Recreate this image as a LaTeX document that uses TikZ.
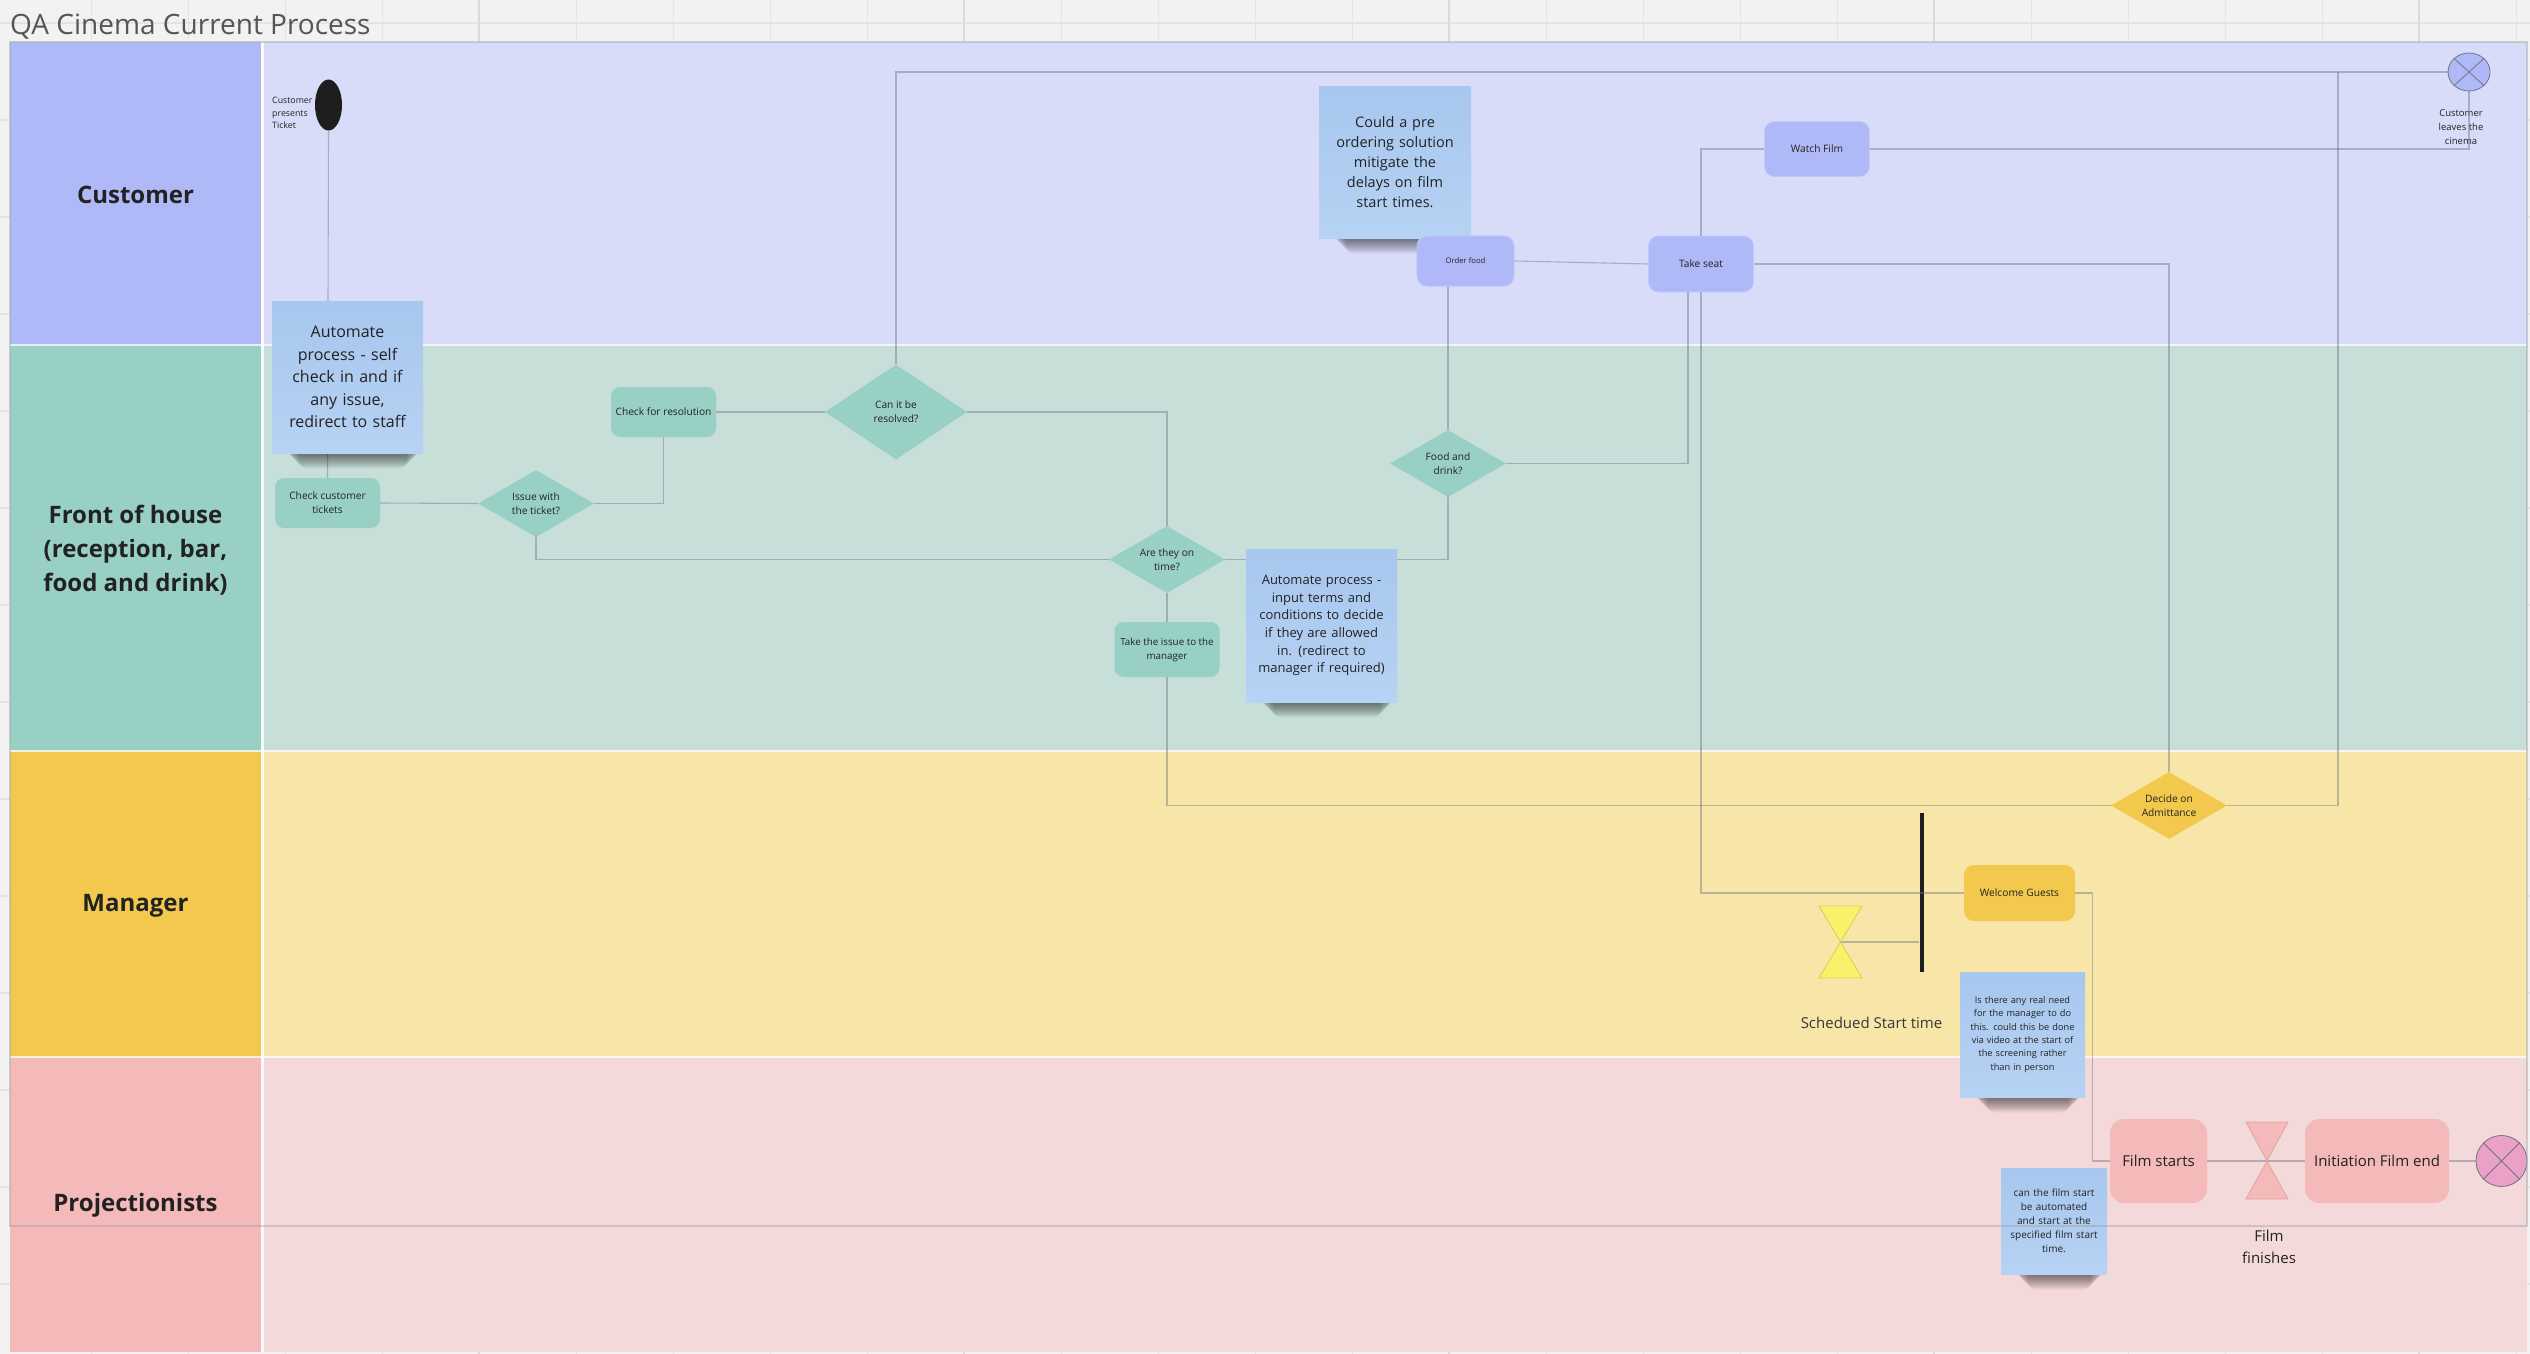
\documentclass[tikz,border=0pt]{standalone}
\usepackage{fontspec}
\setmainfont{Open Sans}
\usetikzlibrary{shapes.geometric,calc}

\definecolor{pagebg}{HTML}{F2F2F2}
\definecolor{gridln}{HTML}{E4E4E4}
\definecolor{gridthick}{HTML}{DADADA}
\definecolor{custlab}{HTML}{B0B9F7}
\definecolor{custbg}{HTML}{D9DCF8}
\definecolor{custedge}{HTML}{C2C8F9}
\definecolor{fohlab}{HTML}{99D0C6}
\definecolor{fohbg}{HTML}{C8DED8}
\definecolor{mgrlab}{HTML}{F2C94C}
\definecolor{mgrbg}{HTML}{F8E6A8}
\definecolor{projlab}{HTML}{F4B9B9}
\definecolor{projbg}{HTML}{F4D9DB}
\definecolor{ink}{HTML}{222222}
\definecolor{titleink}{HTML}{555555}
\definecolor{wirecol}{HTML}{6E7580}
\definecolor{framecol}{HTML}{A0A0A8}
\definecolor{notetop}{HTML}{A8C7EE}
\definecolor{notebot}{HTML}{B6D2F4}
\definecolor{endpink}{HTML}{EBA0C8}
\definecolor{hgyellow}{HTML}{FAF06A}
\definecolor{hgyedge}{HTML}{D6CC5C}
\definecolor{hgpedge}{HTML}{DFA3A3}
\definecolor{barblack}{HTML}{1E1E1E}

% soft shadow under a sticky note: left x, right x, bottom y
\newcommand\noteshadow[3]{%
  \foreach \k in {0,...,15}{%
    \fill[black, opacity=0.035, rounded corners=7pt]
      ({#1+14+0.9*\k},{#3-12}) rectangle ({#2-3-0.9*\k},{#3+2+0.9*\k});
  }%
}

\tikzset{
  base/.style={text=ink, align=center, inner sep=0pt,
    font=\fontsize{10.2}{14}\selectfont},
  lanelabel/.style={text=ink, align=center,
    font=\bfseries\fontsize{24}{34}\selectfont},
  custbox/.style={base, rectangle, rounded corners=10pt, fill=custlab,
    draw=custedge, line width=0.8pt},
  fohbox/.style={base, rectangle, rounded corners=9pt, fill=fohlab,
    minimum width=105pt, minimum height=50pt},
  fohdia/.style={base, diamond, aspect=1.7, fill=fohlab,
    minimum width=116pt, minimum height=67pt},
  mgrbox/.style={base, rectangle, rounded corners=10pt, fill=mgrlab},
  mgrdia/.style={base, diamond, aspect=1.7, fill=mgrlab,
    minimum width=116pt, minimum height=67pt},
  projbox/.style={base, rectangle, rounded corners=14pt, fill=projlab,
    minimum height=84pt, font=\fontsize{15}{20}\selectfont},
  note/.style={base, rectangle, top color=notetop, bottom color=notebot,
    draw=none},
  caption/.style={text=ink, align=center, inner sep=0pt},
  wire/.style={draw=wirecol, opacity=0.45, line width=1.1pt},
}

\begin{document}
\begin{tikzpicture}[x=1pt, y=-1pt]
\useasboundingbox (0,0) rectangle (2530,1354);

% board background with grid
\fill[pagebg] (0,0) rectangle (2530,1354);
\foreach \k in {0,...,25}
  \draw[gridln, line width=1.2pt] ({91.5+97*\k},0) -- ({91.5+97*\k},1354);
\foreach \k in {0,...,14}
  \draw[gridln, line width=1.2pt] (0,{23+97*\k}) -- (2530,{23+97*\k});
\foreach \k in {0,...,4}
  \draw[gridthick, line width=2pt] ({478.5+485*\k},0) -- ({478.5+485*\k},1354);

% title
\node[anchor=base west, text=titleink, inner sep=0pt,
      font=\fontsize{28}{34}\selectfont] (title) at (10,35) {QA Cinema Current Process};

% swimlanes
\fill[custlab] (10,42) rectangle (261,345);
\fill[custbg] (263,42) rectangle (2527,345);
\fill[fohlab] (10,345) rectangle (261,751);
\fill[fohbg] (263,345) rectangle (2527,751);
\fill[mgrlab] (10,751) rectangle (261,1057);
\fill[mgrbg] (263,751) rectangle (2527,1057);
\fill[projlab] (10,1057) rectangle (261,1352);
\fill[projbg] (263,1057) rectangle (2527,1352);
\foreach \yy in {345,751,1057}
  \draw[white, opacity=0.75, line width=2.5pt] (10,\yy) -- (2527,\yy);
\draw[white, opacity=0.8, line width=3pt] (262,42) -- (262,1352);

\node[lanelabel] (lcust) at (135.5,195) {Customer};
\node[lanelabel] (lfoh) at (135.5,550) {Front of house\\(reception, bar,\\food and drink)};
\node[lanelabel] (lmgr) at (135.5,906) {Manager};
\node[lanelabel] (lproj) at (135.5,1205) {Projectionists};

% ---------- nodes ----------
% customer lane
\node[ellipse, fill=barblack, minimum width=27pt, minimum height=51pt, inner sep=0pt]
  (start) at (328.5,105) {};
\node[caption, anchor=west, align=left, font=\fontsize{8.8}{12.5}\selectfont]
  (startlbl) at (272,113) {Customer\\presents\\Ticket};
\node[custbox, minimum width=97pt, minimum height=50pt,
      font=\fontsize{7.7}{10}\selectfont] (of) at (1465.5,261) {Order food};
\node[custbox, minimum width=105pt, minimum height=56pt] (ts) at (1701,264) {Take seat};
\node[custbox, minimum width=105pt, minimum height=55pt] (wf) at (1817,149) {Watch Film};
\node[ellipse, fill=custlab, draw=wirecol, line width=0.8pt,
      minimum width=42pt, minimum height=38pt, inner sep=0pt] (leave) at (2469,72) {};
\draw[wirecol, line width=0.8pt] (leave.north west) -- (leave.south east)
  (leave.north east) -- (leave.south west);
\node[caption, font=\fontsize{9.5}{14}\selectfont] (leavelbl) at (2461,127)
  {Customer\\leaves the\\cinema};

% front of house lane
\node[fohbox] (cct) at (327.5,503) {Check customer\\tickets};
\node[fohdia] (iw) at (536,503.5) {Issue with\\the ticket?};
\node[fohbox] (cfr) at (663.5,412) {Check for resolution};
\node[fohdia, minimum width=142pt, minimum height=95pt, aspect=1.5] (cr) at (896,412)
  {Can it be\\resolved?};
\node[fohdia] (ot) at (1167,559.5) {Are they on\\time?};
\node[fohbox, minimum height=55pt, font=\fontsize{9.8}{14}\selectfont] (tim) at (1167,649.5)
  {Take the issue to the\\manager};
\node[fohdia] (fd) at (1448,463.5) {Food and\\drink?};

% manager lane
\node[mgrdia] (dec) at (2169,805.5) {Decide on\\Admittance};
\node[mgrbox, minimum width=111pt, minimum height=56pt] (wg) at (2019.5,893) {Welcome Guests};
\node[rectangle, fill=barblack, minimum width=4pt, minimum height=159pt, inner sep=0pt]
  (bar) at (1921.5,892.5) {};
\coordinate (hg) at (1840.5,942);
\node[caption, text=ink!90, font=\fontsize{15}{20}\selectfont] (sst) at (1871.5,1023)
  {Schedued Start time};

% projectionists lane
\node[projbox, minimum width=97pt] (fs) at (2158.5,1161) {Film starts};
\coordinate (hgp) at (2267,1161);
\node[projbox, minimum width=144pt] (ife) at (2377,1161) {Initiation Film end};
\node[circle, fill=endpink, draw=wirecol, line width=0.8pt, minimum size=51pt, inner sep=0pt]
  (endc) at (2501.5,1161) {};
\draw[wirecol, line width=0.8pt] (endc.north west) -- (endc.south east)
  (endc.north east) -- (endc.south west);
\node[caption, font=\fontsize{15}{22}\selectfont] (ff) at (2269,1247) {Film\\finishes};

% ---------- connectors ----------
\coordinate (topjoin) at (2338,72);
\draw[wire] (start.south) -- (cct.north);
\draw[wire] (cct.east) -- (iw.west);
\draw[wire] (iw.east) -| (cfr.south);
\draw[wire] (cfr.east) -- (cr.west);
\draw[wire] (cr.north) |- (leave.west);
\draw[wire] (cr.east) -| (ot.north);
\draw[wire] (iw.south) |- (ot.west);
\draw[wire] (ot.south) -- (tim.north);
\draw[wire] (tim.south) |- (dec.west);
\draw[wire] (fd.south) |- (ot.east);
\draw[wire] (fd.north) -- (fd.north |- of.south);
\draw[wire] (of.east) -- (ts.west);
\draw[wire] (fd.east) -| ($(ts.south)+(-13,0)$);
\draw[wire] (ts.north) |- (wf.west);
\draw[wire] (wf.east) -| (leave.south);
\draw[wire] (ts.east) -| (dec.north);
\draw[wire] (dec.east) -| (topjoin);
\draw[wire] (ts.south) |- (wg.west);
\draw[wire] (hg) -- (bar.west |- hg);
\draw[wire] (wg.east) -- ++(17,0) |- (fs.west);
\draw[wire] (fs.east) -- (ife.west);
\draw[wire] (ife.east) -- (endc.west);

% timer symbols
\filldraw[fill=hgyellow, draw=hgyedge, line width=0.8pt]
  (1819,906) -- (1862,906) -- (hg) -- cycle
  (hg) -- (1819,978) -- (1862,978) -- cycle;
\filldraw[fill=projlab, draw=hgpedge, line width=0.8pt]
  (2246,1122) -- (2288,1122) -- (hgp) -- cycle
  (hgp) -- (2246,1199) -- (2288,1199) -- cycle;

% ---------- sticky notes ----------
\noteshadow{272}{423}{453}
\node[note, text width=151pt, minimum height=152pt,
      font=\fontsize{16}{22.4}\selectfont] (n1) at (347.5,377)
  {Automate\\process - self\\check in and if\\any issue,\\redirect to staff};

\noteshadow{1319}{1471}{238}
\node[note, text width=152pt, minimum height=152pt,
      font=\fontsize{14.5}{20}\selectfont] (n3) at (1395,162)
  {Could a pre\\ordering solution\\mitigate the\\delays on film\\start times.};
\node[custbox, minimum width=97pt, minimum height=50pt,
      font=\fontsize{7.7}{10}\selectfont] at (of) {Order food};

\noteshadow{1246}{1397}{702}
\node[note, text width=151pt, minimum height=153pt,
      font=\fontsize{13}{17.7}\selectfont] (n2) at (1321.5,625.5)
  {Automate process -\\input terms and\\conditions to decide\\if they are allowed\\in. (redirect to\\manager if required)};

\noteshadow{1960}{2085}{1097}
\node[note, text width=125pt, minimum height=125pt,
      font=\fontsize{9.2}{13.3}\selectfont] (n4) at (2022.5,1034.5)
  {Is there any real need\\for the manager to do\\this. could this be done\\via video at the start of\\the screening rather\\than in person};

\noteshadow{2001}{2107}{1274}
\node[note, text width=106pt, minimum height=106pt,
      font=\fontsize{10}{14}\selectfont] (n5) at (2054,1221)
  {can the film start\\be automated\\and start at the\\specified film start\\time.};

% board frame
\draw[framecol, opacity=0.45, line width=1.5pt] (10,42) rectangle (2527,1226);
\end{tikzpicture}
\end{document}
